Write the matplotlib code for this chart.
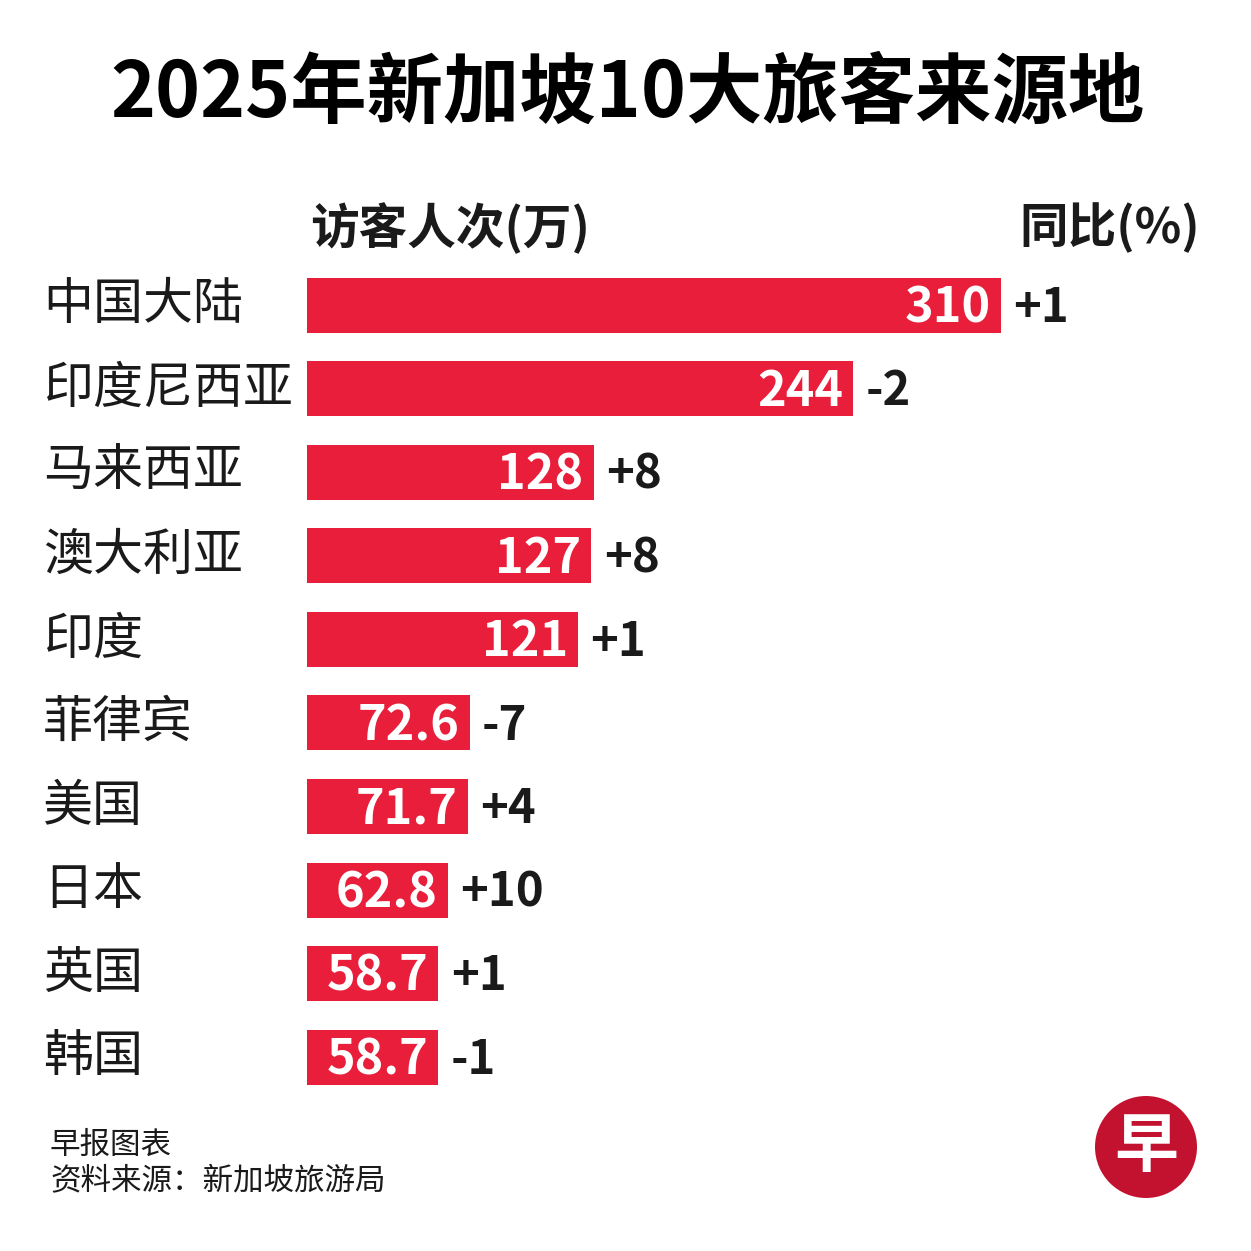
import matplotlib
matplotlib.use("Agg")
import matplotlib.pyplot as plt
from matplotlib.patches import Circle

plt.rcParams['font.family'] = ['Noto Sans CJK SC', 'DejaVu Sans']

# data
countries = ['中国大陆', '印度尼西亚', '马来西亚', '澳大利亚', '印度',
             '菲律宾', '美国', '日本', '英国', '韩国']
visitors = [310, 244, 128, 127, 121, 72.6, 71.7, 62.8, 58.7, 58.7]
value_labels = ['310', '244', '128', '127', '121', '72.6', '71.7', '62.8', '58.7', '58.7']
yoy = ['+1', '-2', '+8', '+8', '+1', '-7', '+4', '+10', '+1', '-1']

RED = '#E81E3A'
INK = '#1a1a1a'
W = H = 1251


def px(x, y):
    # pixel coords (top-left origin) -> figure fraction
    return x / W, 1 - y / H


fig = plt.figure(figsize=(12.51, 12.51), dpi=100)
fig.patch.set_facecolor('white')

# axes: x 0..310 maps to px 307..1001, rows centred at 305 + 83.6*i
row = 83.6
top = 305 - row / 2
bottom = 305 + row * 9.5
ax = fig.add_axes([307 / W, 1 - bottom / H, (1001 - 307) / W, (bottom - top) / H])
ax.set_xlim(0, 310)
ax.set_ylim(9.5, -0.5)
ax.axis('off')

ypos = list(range(len(countries)))
ax.barh(ypos, visitors, height=55 / row, color=RED, edgecolor='none')

for i, (v, lab, ch, name) in enumerate(zip(visitors, value_labels, yoy, countries)):
    ax.text(v - 4.5, i + 0.03, lab, ha='right', va='center', color='white',
            fontsize=35, fontweight='bold')
    ax.text(v + 5.5, i + 0.03, ch, ha='left', va='center', color=INK,
            fontsize=34, fontweight='bold', clip_on=False)
    fig.text(43 / W, 1 - (305 + row * i) / H, name, ha='left', va='center',
             color=INK, fontsize=36)

# title and column headers
fig.text(*px(627, 94), '2025年新加坡10大旅客来源地', ha='center', va='center',
         fontsize=55, fontweight='bold', color='black')
fig.text(*px(310, 228), '访客人次(万)', ha='left', va='center',
         fontsize=35, fontweight='bold', color=INK)
fig.text(*px(1200, 228), '同比(%)', ha='right', va='center',
         fontsize=35, fontweight='bold', color=INK)

# footer
fig.text(*px(50, 1145), '早报图表', ha='left', va='center', fontsize=22, color=INK)
fig.text(*px(50, 1182), '资料来源：新加坡旅游局', ha='left', va='center', fontsize=22, color=INK)

# logo
cx, cy = px(1146, 1147)
fig.patches.append(Circle((cx, cy), 51 / W, transform=fig.transFigure,
                          facecolor='#C3122F', edgecolor='none'))
fig.text(cx, cy, '早', ha='center', va='center', fontsize=46,
         fontweight='bold', color='white')

fig.savefig('out.png', dpi=100, facecolor='white')
